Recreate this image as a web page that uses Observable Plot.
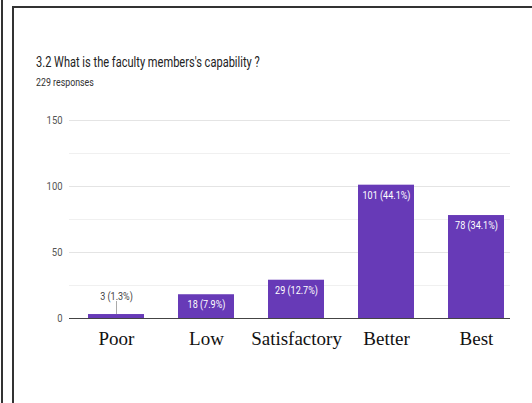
<!DOCTYPE html>
<html>
<head>
<meta charset="utf-8">
<script src="https://cdn.jsdelivr.net/npm/d3@7"></script>
<script src="https://cdn.jsdelivr.net/npm/@observablehq/plot@0.6"></script>
<style>
  html, body { margin: 0; padding: 0; background: #fff; }
  #page { position: relative; width: 532px; height: 403px; overflow: hidden; background: #fff; }
  .frame-outer { position: absolute; left: 1px; top: 0; width: 2px; height: 403px; background: #333; }
  .frame-top { position: absolute; left: 12px; top: 6px; width: 520px; height: 2px; background: #333; }
  .frame-left { position: absolute; left: 12px; top: 6px; width: 2px; height: 397px; background: #333; }
  .title { position: absolute; left: 36px; top: 54px; font-family: Roboto, sans-serif; font-size: 14px; color: #222; white-space: nowrap; transform: scaleX(0.79); transform-origin: left top; }
  .subtitle { position: absolute; left: 36px; top: 76px; font-family: Roboto, sans-serif; font-size: 10.5px; color: #333; white-space: nowrap; transform: scaleX(0.84); transform-origin: left top; }
  #chart { position: absolute; left: 0; top: 100px; }
</style>
</head>
<body>
<div id="page">
  <div class="frame-outer"></div>
  <div class="frame-top"></div>
  <div class="frame-left"></div>
  <div class="title">3.2 What is the faculty members's capability ?</div>
  <div class="subtitle">229 responses</div>
  <div id="chart"></div>
</div>
<script>
const categories = ["Poor", "Low", "Satisfactory", "Better", "Best"];
const counts = [3, 18, 29, 101, 78];
const yTicks = [0, 50, 100, 150];
const gridValues = [25, 50, 75, 100, 125, 150];
const totalResponses = 229;

const data = categories.map((c, i) => ({
  category: c,
  value: counts[i],
  label: `${counts[i]} (${(counts[i] / totalResponses * 100).toFixed(1)}%)`
}));
const inside = data.filter(d => d.value >= 10);
const outside = data.filter(d => d.value < 10);

const plot = Plot.plot({
  width: 532,
  height: 260,
  marginTop: 20,
  marginBottom: 42,
  marginLeft: 69,
  marginRight: 22,
  style: { fontFamily: "Roboto, sans-serif", fontSize: "10px", background: "transparent" },
  x: { domain: categories, range: [87, 504], paddingInner: 0.38, paddingOuter: 0, label: null },
  y: { domain: [0, 150], label: null },
  marks: [
    Plot.ruleY(gridValues, { stroke: d => d % 50 === 0 ? "#e4e4e4" : "#f0f0f0", strokeWidth: 1 }),
    Plot.barY(data, { x: "category", y: "value", fill: "#673ab7" }),
    Plot.ruleY([0], { stroke: "#444", strokeWidth: 1 }),
    Plot.axisY({ ticks: yTicks, tickSize: 0, tickPadding: 7, fill: "#555", fontSize: 11, label: null }),
    Plot.axisX({ tickSize: 0, tickPadding: 13, fontFamily: "'Liberation Serif', 'Times New Roman', serif", fontSize: 19, fill: "#111", label: null }),
    Plot.text(inside, { x: "category", y: "value", text: "label", dy: 10, fill: "white", fontSize: 10.5, lineAnchor: "middle" }),
    Plot.ruleX(outside, { x: "category", y1: "value", y2: "value", insetTop: -13, stroke: "#aaa", strokeWidth: 1 }),
    Plot.text(outside, { x: "category", y: "value", text: "label", dy: -18, fill: "#444", fontSize: 10.5, lineAnchor: "middle" })
  ]
});
document.getElementById("chart").appendChild(plot);

// condense the sans-serif texts to mimic the narrow screenshot font
plot.querySelectorAll("text").forEach(t => {
  const fam = (t.getAttribute("font-family") || (t.parentNode && t.parentNode.getAttribute && t.parentNode.getAttribute("font-family")) || "");
  if (fam.includes("Serif")) return;
  const len = t.getComputedTextLength();
  if (len > 0) {
    t.setAttribute("textLength", (len * 0.86).toFixed(2));
    t.setAttribute("lengthAdjust", "spacingAndGlyphs");
  }
});
</script>
</body>
</html>
